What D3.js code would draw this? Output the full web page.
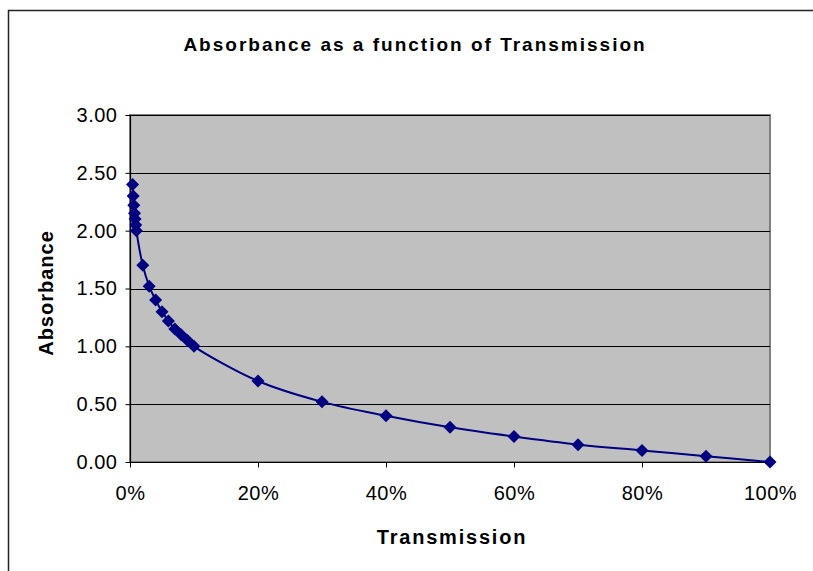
<!DOCTYPE html>
<html>
<head>
<meta charset="utf-8">
<script src="https://cdn.jsdelivr.net/npm/d3@7"></script>
<style>
  body { margin: 0; background: #fff; }
  text { font-family: "Liberation Sans", Arial, sans-serif; }
</style>
</head>
<body>
<svg id="chart" width="813" height="571"></svg>
<script>
// Transmission (fraction) and absorbance
var transmission = [0.004, 0.005, 0.006, 0.007, 0.008, 0.009, 0.01,
  0.02, 0.03, 0.04, 0.05, 0.06, 0.07, 0.08, 0.09, 0.10,
  0.2, 0.3, 0.4, 0.5, 0.6, 0.7, 0.8, 0.9, 1.0];
var absorbance = [2.40, 2.30, 2.22, 2.15, 2.10, 2.05, 2.00,
  1.70, 1.52, 1.40, 1.30, 1.22, 1.15, 1.10, 1.05, 1.00,
  0.70, 0.52, 0.40, 0.30, 0.22, 0.15, 0.10, 0.05, 0.00];
var xTicks = [0, 0.2, 0.4, 0.6, 0.8, 1.0];
var yTicks = [0, 0.5, 1.0, 1.5, 2.0, 2.5, 3.0];

var lineData = transmission.map(function (t, i) {
  return { x: t, y: absorbance[i] };
});

var svg = d3.select("#chart"),
  MARGINS = { top: 115, right: 43, bottom: 109, left: 130 },
  WIDTH = 813,
  HEIGHT = 571;

var xRange = d3.scaleLinear()
  .range([MARGINS.left, WIDTH - MARGINS.right])
  .domain([0, 1]);

var yRange = d3.scaleLinear()
  .range([HEIGHT - MARGINS.bottom, MARGINS.top])
  .domain([0, 3]);

// outer chart frame
svg.append("rect")
  .attr("x", 8.5).attr("y", 10.5)
  .attr("width", 840).attr("height", 600)
  .attr("fill", "none")
  .attr("stroke", "#222")
  .attr("stroke-width", 1.5);

// plot area
svg.append("rect")
  .attr("x", xRange(0)).attr("y", yRange(3))
  .attr("width", xRange(1) - xRange(0))
  .attr("height", yRange(0) - yRange(3))
  .attr("fill", "#c0c0c0")
  .attr("stroke", "#808080")
  .attr("stroke-width", 2);

// gridlines
svg.append("g")
  .selectAll("line")
  .data(yTicks.filter(function (d) { return d > 0; }))
  .enter().append("line")
  .attr("x1", xRange(0)).attr("x2", xRange(1))
  .attr("y1", function (d) { return Math.round(yRange(d)) + 0.5; })
  .attr("y2", function (d) { return Math.round(yRange(d)) + 0.5; })
  .attr("stroke", "#000")
  .attr("stroke-width", 1);

var xAxis = svg.append("g")
  .attr("transform", "translate(0," + (Math.round(yRange(0)) + 0.5) + ")")
  .call(d3.axisBottom(xRange)
    .tickValues(xTicks)
    .tickSize(5)
    .tickPadding(18)
    .tickFormat(d3.format(".0%")));

var yAxis = svg.append("g")
  .attr("transform", "translate(" + (Math.round(xRange(0)) + 0.5) + ",0)")
  .call(d3.axisLeft(yRange)
    .tickValues(yTicks)
    .tickSize(5)
    .tickPadding(8)
    .tickFormat(d3.format(".2f")));

[xAxis, yAxis].forEach(function (ax) {
  ax.select(".domain").attr("stroke", "#000").attr("stroke-width", 1.2);
  ax.selectAll(".tick line").attr("stroke", "#000");
  ax.selectAll(".tick text")
    .attr("fill", "#000")
    .style("font-family", "'Liberation Sans', Arial, sans-serif")
    .style("font-size", "20px")
    .style("letter-spacing", "0.5px");
});
xAxis.select(".domain").attr("d", "M" + xRange(0) + ",0H" + xRange(1));
yAxis.select(".domain").attr("d", "M0," + yRange(0) + "V" + yRange(3));

var lineFunc = d3.line()
  .x(function (d) { return xRange(d.x); })
  .y(function (d) { return yRange(d.y); })
  .curve(d3.curveCatmullRom);

svg.append("path")
  .attr("d", lineFunc(lineData))
  .attr("stroke", "#000080")
  .attr("stroke-width", 2)
  .attr("fill", "none");

// diamond markers
svg.append("g")
  .selectAll("path")
  .data(lineData)
  .enter().append("path")
  .attr("d", "M0,-6.5L6.5,0L0,6.5L-6.5,0Z")
  .attr("transform", function (d) {
    return "translate(" + xRange(d.x) + "," + yRange(d.y) + ")";
  })
  .attr("fill", "#000080");

// titles
svg.append("text")
  .attr("x", 415).attr("y", 51)
  .attr("text-anchor", "middle")
  .style("font-weight", "bold")
  .style("font-size", "19px")
  .style("letter-spacing", "2px")
  .text("Absorbance as a function of Transmission");

svg.append("text")
  .attr("x", 452).attr("y", 544)
  .attr("text-anchor", "middle")
  .style("font-weight", "bold")
  .style("font-size", "20px")
  .style("letter-spacing", "1.8px")
  .text("Transmission");

svg.append("text")
  .attr("transform", "translate(53,293) rotate(-90)")
  .attr("text-anchor", "middle")
  .style("font-weight", "bold")
  .style("font-size", "20px")
  .style("letter-spacing", "1px")
  .text("Absorbance");
</script>
</body>
</html>
